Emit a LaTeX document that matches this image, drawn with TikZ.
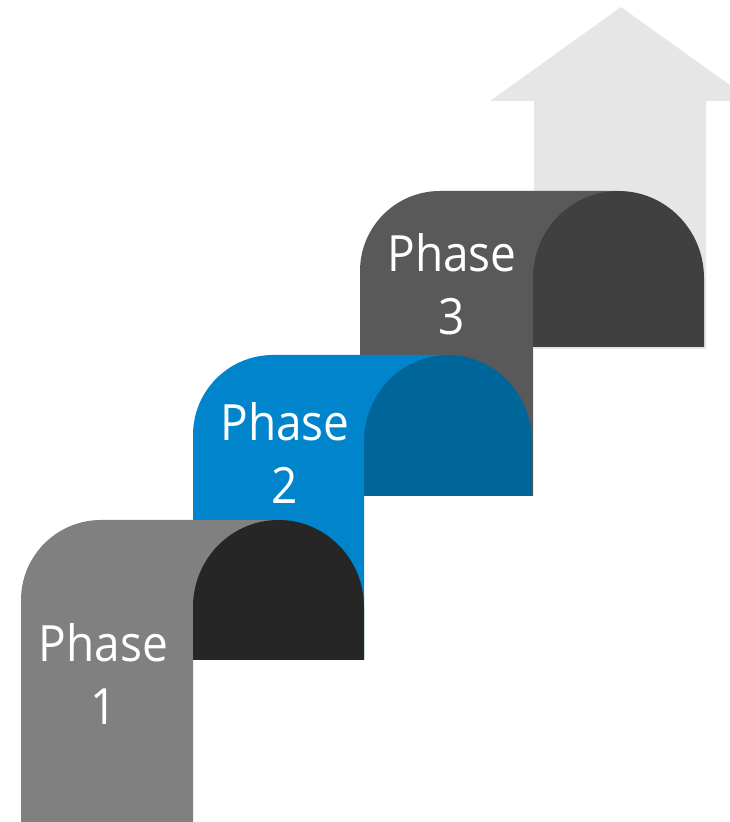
\documentclass[tikz,border=0pt]{standalone}
\usepackage{fontspec}
\newfontfamily\phfont[FakeStretch=0.92]{Open Sans}
\definecolor{arrowgray}{HTML}{E6E6E6}
\definecolor{pthreefront}{HTML}{595959}
\definecolor{pthreeback}{HTML}{404040}
\definecolor{ptwofront}{HTML}{0085CC}
\definecolor{ptwoback}{HTML}{006699}
\definecolor{ponefront}{HTML}{808080}
\definecolor{poneback}{HTML}{262626}
\begin{document}
\begin{tikzpicture}[x=1pt,y=1pt,
  phlabel/.style={text=white,align=center,inner sep=0pt,font=\phfont\fontsize{50}{63}\selectfont}]
\useasboundingbox (0,0) rectangle (730,822);
% background arrow
\fill[arrowgray] (534,473) -- (534,721) -- (490,721) -- (621,815) -- (752,721) -- (706,721) -- (706,473) -- cycle;
% phase 3
\fill[pthreefront] (360,326) -- (360,551) arc[start angle=180,end angle=90,radius=80] -- (618,631) -- (618,475) -- (533,475) -- (533,326) -- cycle;
\fill[pthreeback] (533,475) -- (533,544) arc[start angle=180,end angle=0,x radius=85.5,y radius=87] -- (704,475) -- cycle;
\node[phlabel] (p3) at (452,537.5) {Phase\\3};
% phase 2
\fill[ptwofront] (193,162) -- (193,387) arc[start angle=180,end angle=90,radius=80] -- (448,467) -- (448,326) -- (364,326) -- (364,162) -- cycle;
\fill[ptwoback] (364,326) -- (364,380) arc[start angle=180,end angle=0,x radius=84,y radius=87] -- (532,326) -- cycle;
\node[phlabel] (p2) at (285,368.5) {Phase\\2};
% phase 1
\fill[ponefront] (21,0) -- (21,222) arc[start angle=180,end angle=90,radius=80] -- (278.5,302) -- (278.5,162) -- (193,162) -- (193,0) -- cycle;
\fill[poneback] (193,162) -- (193,215) arc[start angle=180,end angle=0,x radius=85.5,y radius=87] -- (364,162) -- cycle;
\node[phlabel] (p1) at (103.5,147.5) {Phase\\1};
\end{tikzpicture}
\end{document}
